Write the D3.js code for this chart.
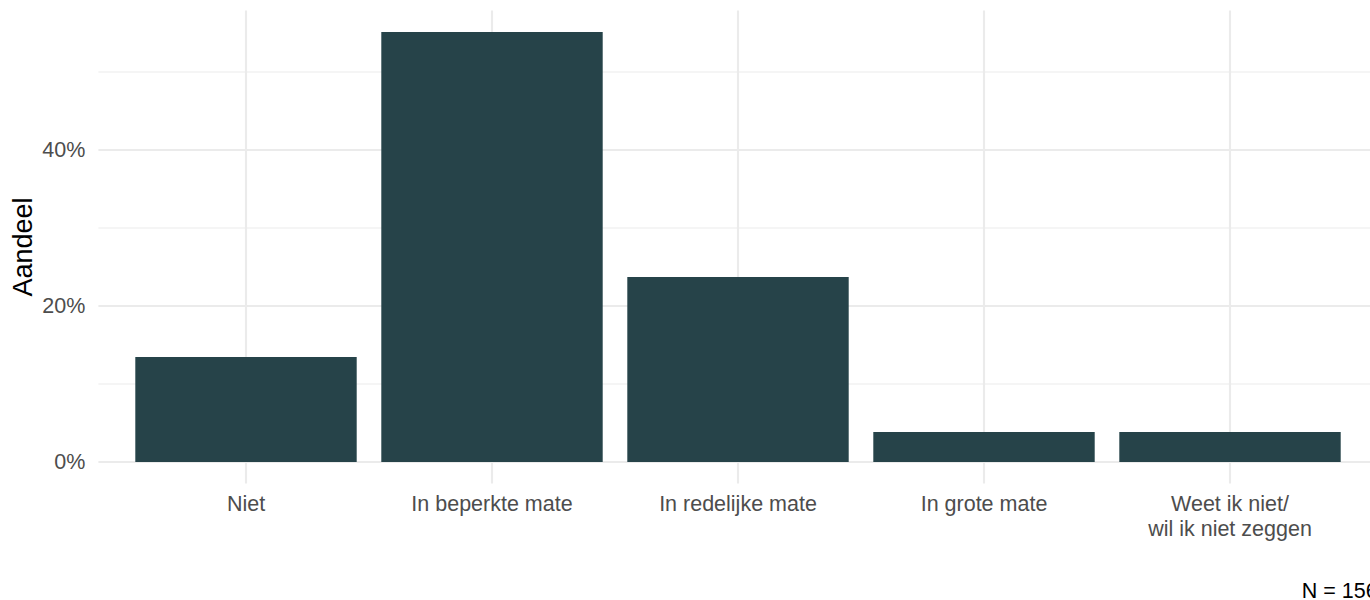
<!DOCTYPE html>
<html><head><meta charset="utf-8">
<script src="https://cdn.jsdelivr.net/npm/d3@7"></script>
<style>body{margin:0;background:#fff;overflow:hidden}svg{display:block}text{font-family:"Liberation Sans",Arial,sans-serif}</style>
</head><body>
<svg id="c" width="1370" height="600"></svg>
<script>
const categories = ["Niet", "In beperkte mate", "In redelijke mate", "In grote mate", "Weet ik niet/\nwil ik niet zeggen"];
const counts = [21, 86, 37, 6, 6];
const total = 156;
const shares = counts.map(c => c / total);
const yTicks = [0, 0.2, 0.4];
const yMinor = [0.1, 0.3, 0.5];
const yTitle = "Aandeel";
const caption = "N = 156";

(function () {
const svg = d3.select("#c");
const pLeft = 98.4, pRight = 1377.6;
const maxV = d3.max(shares);
const y0 = 462, pxPer = 780;
const pTop = y0 - maxV * 1.05 * pxPer, pBottom = y0 + maxV * 0.05 * pxPer;

const step = (pRight - pLeft) / (categories.length + 0.2);
const xc = d3.scalePoint().domain(categories).range([pLeft + 0.6 * step, pRight - 0.6 * step]);
const y = d3.scaleLinear().domain([-maxV * 0.05, maxV * 1.05]).range([pBottom, pTop]);

const g = svg.append("g");
g.selectAll(".minor").data(yMinor).join("line")
  .attr("x1", pLeft).attr("x2", pRight).attr("y1", d => y(d)).attr("y2", d => y(d))
  .attr("stroke", "#ebebeb").attr("stroke-width", 1.1);
g.selectAll(".major").data(yTicks).join("line")
  .attr("x1", pLeft).attr("x2", pRight).attr("y1", d => y(d)).attr("y2", d => y(d))
  .attr("stroke", "#ebebeb").attr("stroke-width", 2.1);
g.selectAll(".vgrid").data(categories).join("line")
  .attr("x1", d => xc(d)).attr("x2", d => xc(d)).attr("y1", pTop).attr("y2", pBottom)
  .attr("stroke", "#ebebeb").attr("stroke-width", 2.1);

const bw = 0.9 * step;
g.selectAll(".bar").data(categories).join("rect")
  .attr("x", d => xc(d) - bw / 2).attr("width", bw)
  .attr("y", (d, i) => y(shares[i])).attr("height", (d, i) => y(0) - y(shares[i]))
  .attr("fill", "#264349");

const fs = "21.5px";
const yAxis = d3.axisLeft(y).tickValues(yTicks).tickFormat(d3.format(".0%")).tickSize(0).tickPadding(13);
const ya = svg.append("g").attr("transform", `translate(${pLeft},0)`).call(yAxis);
ya.select(".domain").remove();
ya.selectAll("text").attr("fill", "#4d4d4d").style("font-size", fs).style("font-family", '"Liberation Sans",Arial,sans-serif');

const xl = svg.append("g");
categories.forEach(c => {
  const lines = c.split("\n");
  const t = xl.append("text").attr("x", xc(c)).attr("y", 511).attr("text-anchor", "middle")
    .attr("fill", "#4d4d4d").style("font-size", fs);
  lines.forEach((l, i) => t.append("tspan").attr("x", xc(c)).attr("dy", i === 0 ? 0 : 24.5).text(l));
});

svg.append("text").attr("transform", `translate(32,${(pTop + pBottom) / 2}) rotate(-90)`)
  .attr("text-anchor", "middle").attr("fill", "#000").style("font-size", "27px").text(yTitle);

svg.append("text").attr("x", pRight).attr("y", 598).attr("text-anchor", "end")
  .attr("fill", "#000").style("font-size", fs).text(caption);
})();
</script>
</body></html>
